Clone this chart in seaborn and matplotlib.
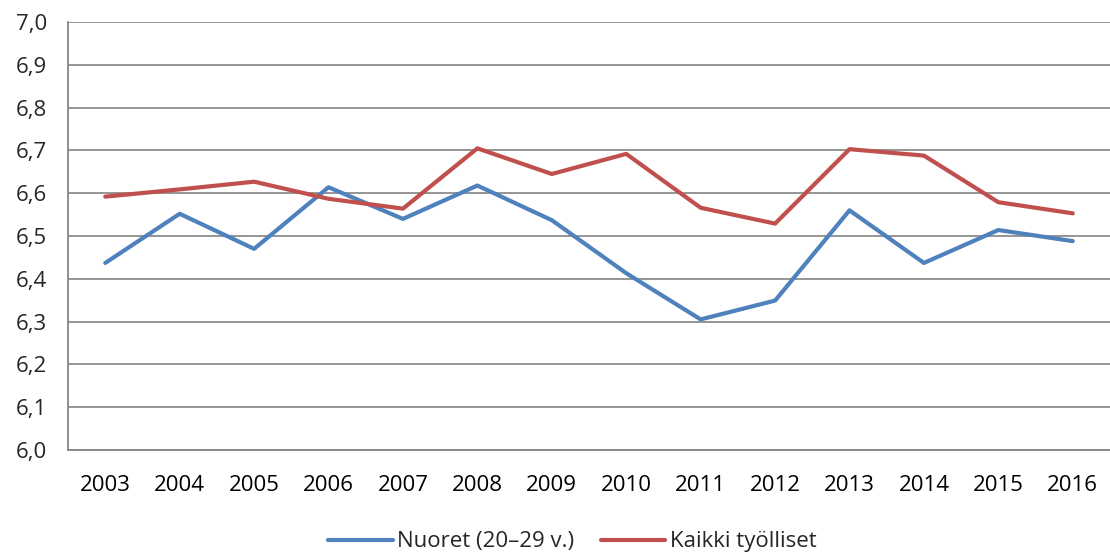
import matplotlib
matplotlib.use("Agg")
import matplotlib.pyplot as plt
import seaborn as sns
import pandas as pd
from matplotlib.ticker import FuncFormatter, MultipleLocator

# -----------------------
# Data
# -----------------------
years = ["2003", "2004", "2005", "2006", "2007", "2008", "2009",
         "2010", "2011", "2012", "2013", "2014", "2015", "2016"]
nuoret = [6.437, 6.552, 6.470, 6.614, 6.540, 6.618, 6.537,
          6.413, 6.305, 6.349, 6.560, 6.437, 6.514, 6.488]
kaikki = [6.592, 6.609, 6.627, 6.587, 6.564, 6.705, 6.645,
          6.692, 6.566, 6.529, 6.703, 6.688, 6.579, 6.553]
series_names = ["Nuoret (20\u201329 v.)", "Kaikki ty\u00f6lliset"]
colors = ["#4F81BD", "#C0504D"]


def main():
    sns.set_style("white")
    plt.rcParams["font.family"] = ["Open Sans", "DejaVu Sans"]

    df = pd.DataFrame({
        "pos": list(range(len(years))) * 2,
        "value": nuoret + kaikki,
        "series": [series_names[0]] * len(years) + [series_names[1]] * len(years),
    })

    fig = plt.figure(figsize=(11.1, 5.54), dpi=100)
    ax = fig.add_axes([0.0613, 0.188, 0.9387, 0.772])

    sns.lineplot(
        data=df, x="pos", y="value", hue="series",
        palette=colors, hue_order=series_names,
        linewidth=3.0, ax=ax, legend=True,
    )

    # axes styling
    ax.set_xlim(-0.5, len(years) - 0.5)
    ax.set_ylim(6.0, 7.0)
    ax.yaxis.set_major_locator(MultipleLocator(0.1))
    ax.yaxis.set_major_formatter(FuncFormatter(lambda v, _: f"{v:.1f}".replace(".", ",")))
    ax.set_xticks(range(len(years)))
    ax.set_xticklabels(years)
    ax.set_xticks([i - 0.5 for i in range(len(years) + 1)], minor=True)
    ax.tick_params(axis="x", which="major", length=0, pad=18, labelsize=16, colors="#000000")
    ax.tick_params(axis="x", which="minor", length=6, width=1.3, color="#868686", direction="out")
    ax.tick_params(axis="y", length=6, width=1.3, color="#868686", pad=9, labelsize=16)
    ax.set_xlabel("")
    ax.set_ylabel("")

    ax.grid(axis="y", color="#8c8c8c", linewidth=1.3)
    ax.set_axisbelow(True)
    for side in ["top", "right"]:
        ax.spines[side].set_visible(False)
    for side in ["left", "bottom"]:
        ax.spines[side].set_color("#868686")
        ax.spines[side].set_linewidth(1.3)

    ax.legend(
        loc="center", bbox_to_anchor=(0.484, -0.215), ncol=2, frameon=False,
        fontsize=16, handlelength=2.9, handletextpad=0.2, columnspacing=1.2,
    )

    fig.savefig("out.png", dpi=100)
    plt.close(fig)


if __name__ == "__main__":
    main()
